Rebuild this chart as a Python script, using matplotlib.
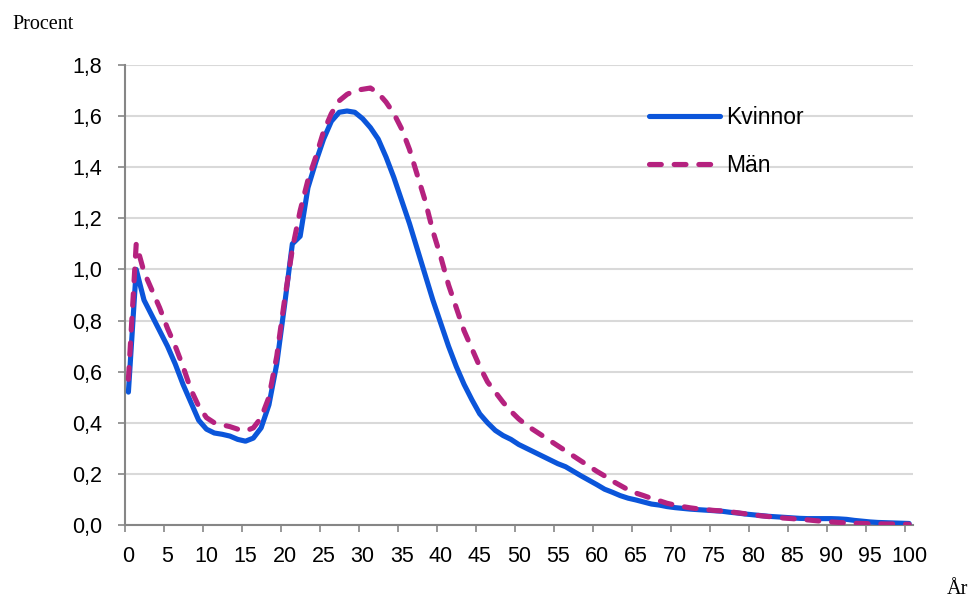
import matplotlib
matplotlib.use("Agg")
import matplotlib.pyplot as plt
import numpy as np
from matplotlib.ticker import FixedLocator

ages = list(range(0, 101))

kvinnor = [
    0.52, 1.00, 0.88, 0.82, 0.76, 0.70, 0.63, 0.55, 0.48, 0.41,
    0.375, 0.36, 0.355, 0.348, 0.335, 0.328, 0.34, 0.38, 0.47, 0.63,
    0.86, 1.10, 1.13, 1.32, 1.42, 1.51, 1.58, 1.615, 1.62, 1.615,
    1.59, 1.555, 1.51, 1.44, 1.36, 1.27, 1.18, 1.08, 0.98, 0.88,
    0.79, 0.70, 0.62, 0.55, 0.49, 0.435, 0.40, 0.37, 0.35, 0.335,
    0.315, 0.30, 0.285, 0.27, 0.255, 0.24, 0.228, 0.21, 0.192, 0.175,
    0.158, 0.14, 0.128, 0.115, 0.105, 0.098, 0.09, 0.082, 0.078, 0.072,
    0.068, 0.065, 0.062, 0.060, 0.058, 0.056, 0.054, 0.050, 0.047, 0.043,
    0.040, 0.037, 0.034, 0.032, 0.030, 0.028, 0.026, 0.025, 0.025, 0.025,
    0.025, 0.024, 0.022, 0.018, 0.015, 0.012, 0.010, 0.009, 0.008, 0.007,
    0.006,
]

man = [
    0.57, 1.10, 0.99, 0.92, 0.85, 0.77, 0.70, 0.62, 0.53, 0.465,
    0.42, 0.40, 0.392, 0.385, 0.375, 0.368, 0.38, 0.42, 0.50, 0.66,
    0.88, 1.08, 1.23, 1.35, 1.44, 1.54, 1.61, 1.66, 1.685, 1.70,
    1.705, 1.71, 1.69, 1.655, 1.61, 1.55, 1.47, 1.37, 1.27, 1.15,
    1.05, 0.94, 0.85, 0.76, 0.69, 0.62, 0.56, 0.52, 0.48, 0.445,
    0.415, 0.39, 0.37, 0.35, 0.33, 0.31, 0.29, 0.27, 0.25, 0.23,
    0.21, 0.192, 0.172, 0.155, 0.138, 0.125, 0.115, 0.104, 0.095, 0.085,
    0.078, 0.072, 0.067, 0.063, 0.060, 0.057, 0.055, 0.052, 0.048, 0.044,
    0.040, 0.036, 0.033, 0.030, 0.027, 0.025, 0.022, 0.020, 0.017, 0.014,
    0.012, 0.010, 0.008, 0.007, 0.006, 0.005, 0.005, 0.004, 0.004, 0.003,
    0.003,
]

xtick_labels = [str(v) for v in range(0, 101, 5)]
ytick_values = [0.0, 0.2, 0.4, 0.6, 0.8, 1.0, 1.2, 1.4, 1.6, 1.8]
ytick_labels = [f"{v:.1f}".replace(".", ",") for v in ytick_values]

sans = ["Liberation Sans", "DejaVu Sans"]
serif = ["Liberation Serif", "DejaVu Serif"]

fig = plt.figure(figsize=(9.71, 5.98), dpi=100)
ax = fig.add_axes([124.5 / 971, 1 - 525 / 598, (913 - 124.5) / 971, (525 - 65) / 598])

blue = "#0B55DA"
magenta = "#B5227F"

x = np.array(ages) + 0.5
ax.plot(x, kvinnor, color=blue, lw=3.7, solid_capstyle="round",
        solid_joinstyle="round", label="Kvinnor", zorder=3)
ax.plot(x, man, color=magenta, lw=3.7, linestyle=(0, (2.3, 2.5)),
        dash_capstyle="round", dash_joinstyle="round", label="Män", zorder=4)

ax.set_xlim(0, 101)
ax.set_ylim(0, 1.8)

# ticks at category boundaries, labels at category centres
ax.xaxis.set_major_locator(FixedLocator(list(range(0, 101, 5))))
ax.xaxis.set_major_formatter(plt.NullFormatter())
ax.set_xticks([v + 0.5 for v in range(0, 101, 5)], labels=xtick_labels, minor=True)
ax.tick_params(axis="x", which="major", length=5, width=1.2, color="#868686", direction="out")
ax.tick_params(axis="x", which="minor", length=0, pad=15, labelsize=15.5)

ax.set_yticks(ytick_values, labels=ytick_labels)
ax.tick_params(axis="y", length=5, width=1.2, color="#868686", direction="out",
               pad=11, labelsize=15.5)

for lab in ax.get_xticklabels(minor=True) + ax.get_yticklabels():
    lab.set_fontfamily(sans)

ax.grid(axis="y", color="#D9D9D9", lw=1.5, zorder=0)
ax.set_axisbelow(True)
for s in ["top", "right"]:
    ax.spines[s].set_visible(False)
for s in ["left", "bottom"]:
    ax.spines[s].set_color("#868686")
    ax.spines[s].set_linewidth(1.5)

leg = ax.legend(loc="upper left", bbox_to_anchor=(649 / 971, 1 - 106 / 598),
                bbox_transform=fig.transFigure, frameon=False, borderpad=0,
                borderaxespad=0, handlelength=3.1, handletextpad=0.28,
                labelspacing=1.08, prop={"family": sans, "size": 16.5})

fig.text(12 / 971, 1 - 29 / 598, "Procent", family=serif, fontsize=14.5, va="baseline", ha="left")
fig.text(947 / 971, 1 - 594 / 598, "År", family=serif, fontsize=14.5, va="baseline", ha="left")

fig.savefig("out.png", dpi=100)
